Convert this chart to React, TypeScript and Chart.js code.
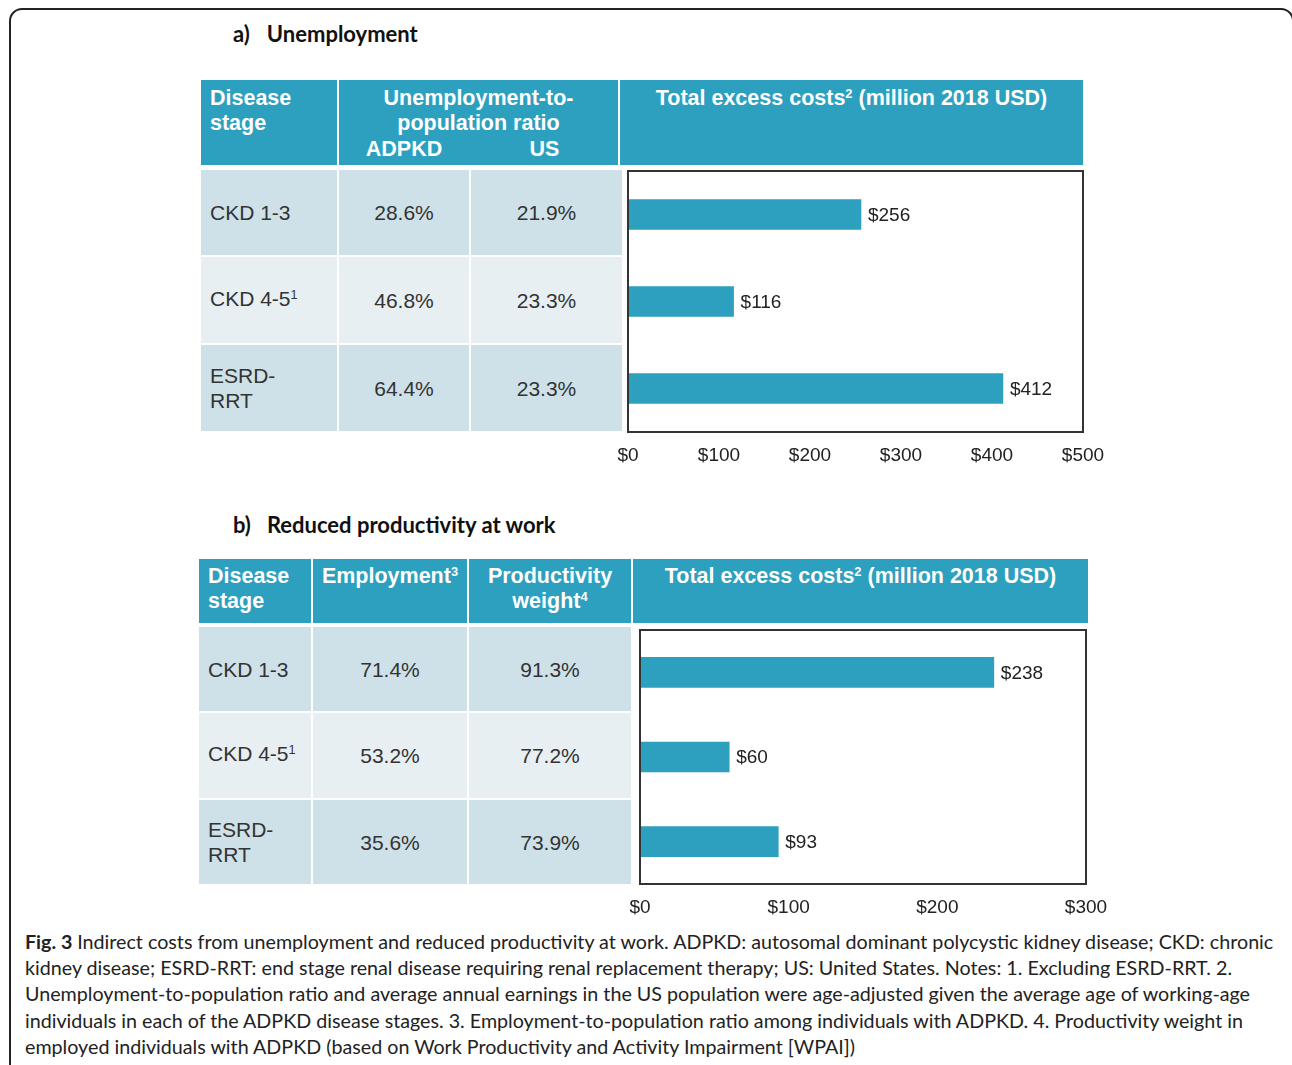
import React, { useEffect, useRef } from 'react';
import { Chart, registerables } from 'chart.js';

Chart.register(...registerables);

// ---------- data ----------
const stages = ['CKD 1-3', 'CKD 4-5¹', 'ESRD-RRT'];
const stageText = ['CKD 1-3', 'CKD 4-5¹', 'ESRD-\nRRT'];
const unempADPKD = ['28.6%', '46.8%', '64.4%'];
const unempUS = ['21.9%', '23.3%', '23.3%'];
const unempCosts = [256, 116, 412];
const unempAxisMax = 500;
const employment = ['71.4%', '53.2%', '35.6%'];
const prodWeight = ['91.3%', '77.2%', '73.9%'];
const prodCosts = [238, 60, 93];
const prodAxisMax = 300;
const axisStep = 100;

const captionLines = [
  'Indirect costs from unemployment and reduced productivity at work. ADPKD: autosomal dominant polycystic kidney disease; CKD: chronic',
  'kidney disease; ESRD-RRT: end stage renal disease requiring renal replacement therapy; US: United States. Notes: 1. Excluding ESRD-RRT. 2.',
  'Unemployment-to-population ratio and average annual earnings in the US population were age-adjusted given the average age of working-age',
  'individuals in each of the ADPKD disease stages. 3. Employment-to-population ratio among individuals with ADPKD. 4. Productivity weight in',
  'employed individuals with ADPKD (based on Work Productivity and Activity Impairment [WPAI])',
];

// ---------- styles ----------
const BLUE = '#2ca0be';
const ROW_DARK = '#cee1e9';
const ROW_LIGHT = '#e7eff3';
const ARIAL = '"Liberation Sans", Arial, sans-serif';
const TITLE_FONT = 'Lato, "Open Sans", sans-serif';

const framePlugin = {
  id: 'plotFrame',
  afterDraw(chart: any) {
    const { ctx, chartArea } = chart;
    ctx.save();
    ctx.strokeStyle = '#333';
    ctx.lineWidth = 2;
    ctx.strokeRect(chartArea.left, chartArea.top, chartArea.right - chartArea.left, chartArea.bottom - chartArea.top);
    ctx.restore();
  },
};

const labelPlugin = {
  id: 'barLabels',
  afterDatasetsDraw(chart: any) {
    const { ctx } = chart;
    const meta = chart.getDatasetMeta(0);
    const data = chart.data.datasets[0].data;
    ctx.save();
    ctx.font = `19px ${ARIAL}`;
    ctx.fillStyle = '#222';
    ctx.textAlign = 'left';
    ctx.textBaseline = 'middle';
    meta.data.forEach((el: any, i: number) => {
      ctx.fillText('$' + data[i], el.x + 7, el.y + 1);
    });
    ctx.restore();
  },
};

function BarChart(props: {
  values: number[];
  max: number;
  left: number;
  top: number;
  width: number;
  height: number;
  padLeft: number;
  padRight: number;
  padTop: number;
}) {
  const ref = useRef<HTMLCanvasElement>(null);
  useEffect(() => {
    if (!ref.current) return;
    const chart = new Chart(ref.current, {
      type: 'bar',
      data: {
        labels: stages,
        datasets: [
          {
            data: props.values,
            backgroundColor: BLUE,
            borderWidth: 0,
            barThickness: 30,
          },
        ],
      },
      options: {
        indexAxis: 'y',
        animation: false,
        responsive: false,
        maintainAspectRatio: false,
        layout: { padding: { left: props.padLeft, right: props.padRight, top: props.padTop, bottom: 0 } },
        plugins: { legend: { display: false }, tooltip: { enabled: false }, title: { display: false } },
        scales: {
          x: {
            type: 'linear',
            min: 0,
            max: props.max,
            grid: { display: false, drawTicks: false },
            border: { display: false },
            ticks: {
              stepSize: axisStep,
              padding: 12,
              color: '#222',
              font: { family: ARIAL, size: 19 },
              maxRotation: 0,
              callback: (v: any) => '$' + v,
            },
            afterFit: (scale: any) => {
              scale.height = 40;
            },
          },
          y: { display: false },
        },
      },
      plugins: [framePlugin, labelPlugin],
    } as any);
    return () => chart.destroy();
  }, []);
  return (
    <canvas
      ref={ref}
      width={props.width}
      height={props.height}
      style={{ position: 'absolute', left: props.left, top: props.top, width: props.width, height: props.height }}
    />
  );
}

function Cell(props: {
  x: number;
  y: number;
  w: number;
  h: number;
  bg: string;
  children?: React.ReactNode;
  align?: 'left' | 'center';
  valign?: 'top' | 'center';
  padLeft?: number;
  padTop?: number;
  color?: string;
  bold?: boolean;
}) {
  const align = props.align || 'center';
  const valign = props.valign || 'center';
  return (
    <div
      style={{
        position: 'absolute',
        left: props.x,
        top: props.y,
        width: props.w,
        height: props.h,
        background: props.bg,
        boxSizing: 'border-box',
        display: 'flex',
        flexDirection: 'column',
        justifyContent: valign === 'top' ? 'flex-start' : 'center',
        alignItems: align === 'left' ? 'flex-start' : 'center',
        paddingLeft: props.padLeft || 0,
        paddingTop: props.padTop || 0,
        color: props.color || '#333',
        fontFamily: ARIAL,
        fontWeight: props.bold ? 700 : 400,
        fontSize: props.bold ? 21.5 : 21,
        lineHeight: '25px',
        whiteSpace: 'pre-line',
        textAlign: align,
      }}
    >
      {props.children}
    </div>
  );
}

const Sup = (p: { t: string }) => (
  <span style={{ fontSize: '0.6em', position: 'relative', top: '-0.55em' }}>{p.t}</span>
);

function StageText(p: { s: string }) {
  if (p.s.endsWith('¹')) {
    return (
      <span>
        {p.s.slice(0, -1)}
        <Sup t="1" />
      </span>
    );
  }
  return <span>{p.s}</span>;
}

export default function App() {
  const rowsA = [
    { y: 170, h: 85, bg: ROW_DARK },
    { y: 257, h: 86, bg: ROW_LIGHT },
    { y: 345, h: 86, bg: ROW_DARK },
  ];
  const rowsB = [
    { y: 627, h: 84, bg: ROW_DARK },
    { y: 713, h: 85, bg: ROW_LIGHT },
    { y: 800, h: 84, bg: ROW_DARK },
  ];
  return (
    <div style={{ position: 'absolute', left: 0, top: 0, width: 1292, height: 1065, overflow: 'hidden', background: '#fff' }}>
      {/* outer frame */}
      <div
        style={{
          position: 'absolute',
          left: 9,
          top: 8,
          width: 1285,
          height: 1080,
          border: '2px solid #222',
          borderRadius: 13,
          boxSizing: 'border-box',
        }}
      />

      {/* titles */}
      <div style={{ position: 'absolute', left: 233, top: 20, fontFamily: TITLE_FONT, fontWeight: 700, fontSize: 22, lineHeight: '28px', color: '#111', whiteSpace: 'nowrap' }}>
        <span>a)</span>
        <span style={{ marginLeft: 17 }}>Unemployment</span>
      </div>
      <div style={{ position: 'absolute', left: 233, top: 511, fontFamily: TITLE_FONT, fontWeight: 700, fontSize: 22, lineHeight: '28px', color: '#111', whiteSpace: 'nowrap' }}>
        <span>b)</span>
        <span style={{ marginLeft: 16 }}>Reduced productivity at work</span>
      </div>

      {/* panel a header */}
      <Cell x={201} y={80} w={136} h={85} bg={BLUE} color="#fff" bold align="left" valign="top" padLeft={9} padTop={6}>
        {'Disease\nstage'}
      </Cell>
      <Cell x={339} y={80} w={279} h={85} bg={BLUE} color="#fff" bold valign="top" padTop={6}>
        {'Unemployment-to-\npopulation ratio'}
        <div style={{ position: 'absolute', top: 57, left: 0, width: 130, textAlign: 'center', lineHeight: '25px' }}>ADPKD</div>
        <div style={{ position: 'absolute', top: 57, left: 132, width: 147, textAlign: 'center', lineHeight: '25px' }}>US</div>
      </Cell>
      <Cell x={620} y={80} w={463} h={85} bg={BLUE} color="#fff" bold valign="top" padTop={6}>
        <span>
          Total excess costs
          <Sup t="2" /> (million 2018 USD)
        </span>
      </Cell>

      {/* panel a body */}
      {rowsA.map((r, i) => (
        <React.Fragment key={'a' + i}>
          <Cell x={201} y={r.y} w={136} h={r.h} bg={r.bg} align="left" padLeft={9}>
            <StageText s={stageText[i]} />
          </Cell>
          <Cell x={339} y={r.y} w={130} h={r.h} bg={r.bg}>
            {unempADPKD[i]}
          </Cell>
          <Cell x={471} y={r.y} w={151} h={r.h} bg={r.bg}>
            {unempUS[i]}
          </Cell>
        </React.Fragment>
      ))}

      <BarChart values={unempCosts} max={unempAxisMax} left={598} top={161} width={530} height={311} padLeft={30} padRight={45} padTop={10} />

      {/* panel b header */}
      <Cell x={199} y={559} w={112} h={64} bg={BLUE} color="#fff" bold align="left" valign="top" padLeft={9} padTop={5}>
        {'Disease\nstage'}
      </Cell>
      <Cell x={313} y={559} w={154} h={64} bg={BLUE} color="#fff" bold valign="top" padTop={5}>
        <span>
          Employment
          <Sup t="3" />
        </span>
      </Cell>
      <Cell x={469} y={559} w={162} h={64} bg={BLUE} color="#fff" bold valign="top" padTop={5}>
        <span>Productivity</span>
        <span>
          weight
          <Sup t="4" />
        </span>
      </Cell>
      <Cell x={633} y={559} w={455} h={64} bg={BLUE} color="#fff" bold valign="top" padTop={5}>
        <span>
          Total excess costs
          <Sup t="2" /> (million 2018 USD)
        </span>
      </Cell>

      {/* panel b body */}
      {rowsB.map((r, i) => (
        <React.Fragment key={'b' + i}>
          <Cell x={199} y={r.y} w={112} h={r.h} bg={r.bg} align="left" padLeft={9}>
            <StageText s={stageText[i]} />
          </Cell>
          <Cell x={313} y={r.y} w={154} h={r.h} bg={r.bg}>
            {employment[i]}
          </Cell>
          <Cell x={469} y={r.y} w={162} h={r.h} bg={r.bg}>
            {prodWeight[i]}
          </Cell>
        </React.Fragment>
      ))}

      <BarChart values={prodCosts} max={prodAxisMax} left={610} top={620} width={530} height={304} padLeft={30} padRight={54} padTop={10} />

      {/* caption */}
      <div
        style={{
          position: 'absolute',
          left: 25,
          top: 929,
          fontFamily: TITLE_FONT,
          fontSize: 19.7,
          lineHeight: '26.2px',
          color: '#222',
          whiteSpace: 'nowrap',
        }}
      >
        {captionLines.map((l, i) => (
          <div key={i}>
            {i === 0 ? <b>Fig. 3 </b> : null}
            {l}
          </div>
        ))}
      </div>
    </div>
  );
}
